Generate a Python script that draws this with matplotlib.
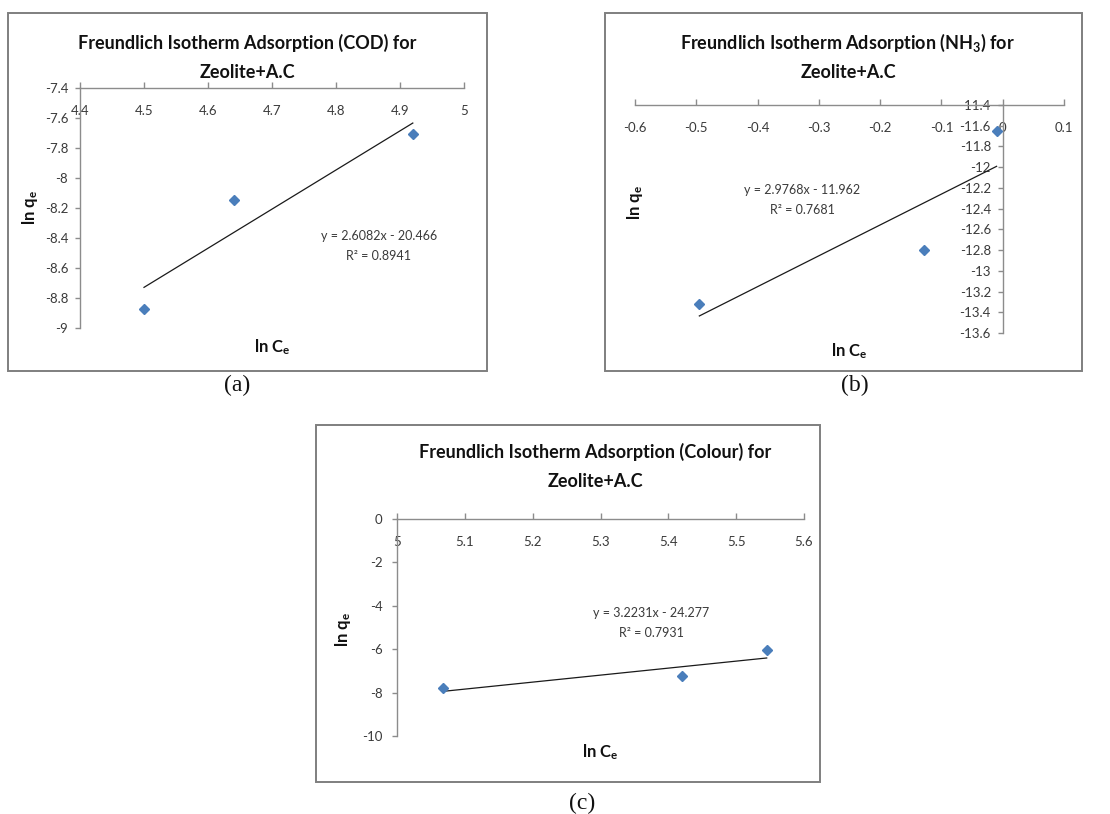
import matplotlib
matplotlib.use("Agg")
import matplotlib.pyplot as plt
import matplotlib.patches as mpatches
import numpy as np

plt.rcParams['font.family'] = ['Lato', 'DejaVu Sans']
plt.rcParams['mathtext.default'] = 'regular'

W, H = 1110, 814

# ---- data ----
cod_x = [4.50, 4.64, 4.92]
cod_y = [-8.87, -8.145, -7.705]
cod_slope, cod_icpt = 2.6082, -20.466
cod_r2 = 0.8941
cod_xticks = [4.4, 4.5, 4.6, 4.7, 4.8, 4.9, 5.0]
cod_xlabels = ['4.4', '4.5', '4.6', '4.7', '4.8', '4.9', '5']
cod_yticks = [-9.0, -8.8, -8.6, -8.4, -8.2, -8.0, -7.8, -7.6, -7.4]
cod_ylabels = ['-9', '-8.8', '-8.6', '-8.4', '-8.2', '-8', '-7.8', '-7.6', '-7.4']

nh3_x = [-0.495, -0.128, -0.010]
nh3_y = [-13.32, -12.80, -11.65]
nh3_slope, nh3_icpt = 2.9768, -11.962
nh3_r2 = 0.7681
nh3_xticks = [-0.6, -0.5, -0.4, -0.3, -0.2, -0.1, 0.0, 0.1]
nh3_xlabels = ['-0.6', '-0.5', '-0.4', '-0.3', '-0.2', '-0.1', '0', '0.1']
nh3_yticks = [-13.6, -13.4, -13.2, -13.0, -12.8, -12.6, -12.4, -12.2, -12.0, -11.8, -11.6, -11.4]
nh3_ylabels = ['-13.6', '-13.4', '-13.2', '-13', '-12.8', '-12.6', '-12.4', '-12.2', '-12', '-11.8', '-11.6', '-11.4']

col_x = [5.068, 5.42, 5.545]
col_y = [-7.81, -7.25, -6.05]
col_slope, col_icpt = 3.2231, -24.277
col_r2 = 0.7931
col_xticks = [5.0, 5.1, 5.2, 5.3, 5.4, 5.5, 5.6]
col_xlabels = ['5', '5.1', '5.2', '5.3', '5.4', '5.5', '5.6']
col_yticks = [-10, -8, -6, -4, -2, 0]
col_ylabels = ['-10', '-8', '-6', '-4', '-2', '0']

MARK = '#4a7ebb'
AXC = '#8c8c8c'
TXT = '#3a3a3a'

fig = plt.figure(figsize=(W / 100, H / 100), dpi=100)


def fx(x):
    return x / W


def fy(y):
    return 1 - y / H


def frame(x0, y0, x1, y1):
    r = mpatches.Rectangle((fx(x0), fy(y1)), fx(x1) - fx(x0), fy(y0) - fy(y1),
                           transform=fig.transFigure, fill=False,
                           edgecolor='#7f7f7f', lw=1.4)
    fig.add_artist(r)


def panel(box, xs, ys, slope, icpt, xticks, xlabels, yticks, ylabels, yaxis_x,
          ylpad=5):
    x0, y0, x1, y1 = box
    ax = fig.add_axes([fx(x0), fy(y1), fx(x1) - fx(x0), fy(y0) - fy(y1)])
    ax.set_xlim(xticks[0], xticks[-1])
    ax.set_ylim(yticks[0], yticks[-1])
    ax.patch.set_alpha(0)
    for s in ['right', 'top']:
        ax.spines[s].set_visible(False)
    ax.spines['bottom'].set_position(('data', yticks[-1]))
    ax.spines['left'].set_position(('data', yaxis_x))
    for s in ['bottom', 'left']:
        ax.spines[s].set_color(AXC)
        ax.spines[s].set_linewidth(1.0)
    ax.set_xticks(xticks)
    ax.set_xticklabels(xlabels)
    ax.set_yticks(yticks)
    ax.set_yticklabels(ylabels)
    ax.tick_params(axis='x', direction='in', length=4, width=1.0, color=AXC,
                   labelsize=9.5, labelcolor=TXT, pad=12)
    ax.tick_params(axis='y', direction='out', length=3.5, width=1.0, color=AXC,
                   labelsize=9.5, labelcolor=TXT, pad=ylpad)
    xf = np.array([min(xs), max(xs)])
    ax.plot(xf, slope * xf + icpt, color='#1a1a1a', lw=0.9, zorder=2)
    ax.plot(xs, ys, linestyle='none', marker='D', ms=5.5, color=MARK,
            markeredgecolor=MARK, zorder=3, clip_on=False)
    return ax


def title(cx, y1, y2, line1):
    fig.text(fx(cx), fy(y1), line1, ha='center', va='center', fontsize=13,
             fontweight='bold', color='#111111')
    fig.text(fx(cx), fy(y2), 'Zeolite+A.C', ha='center', va='center',
             fontsize=13, fontweight='bold', color='#111111')


def labels(ylx, yly, xlx, xly):
    fig.text(fx(ylx), fy(yly), 'ln q$_{e}$', rotation=90, ha='center',
             va='center', fontsize=12, fontweight='bold', color='#111111')
    fig.text(fx(xlx), fy(xly), 'ln C$_{e}$', ha='center', va='center',
             fontsize=12, fontweight='bold', color='#111111')


def eq(cx, y1, y2, slope, icpt, r2):
    fig.text(fx(cx), fy(y1), 'y = %.4fx - %.3f' % (slope, -icpt), ha='center',
             va='center', fontsize=9, color=TXT)
    fig.text(fx(cx), fy(y2), 'R\u00b2 = %.4f' % r2, ha='center', va='center',
             fontsize=9, color=TXT)


def sub(cx, cy, s):
    fig.text(fx(cx), fy(cy), s, ha='center', va='center', fontsize=17,
             family=['Liberation Serif', 'DejaVu Serif'], color='#111111')


# ---- panel (a) ----
frame(8, 13, 487, 371)
panel((80, 88, 464, 328), cod_x, cod_y, cod_slope, cod_icpt,
      cod_xticks, cod_xlabels, cod_yticks, cod_ylabels, cod_xticks[0])
title(247, 43, 72, 'Freundlich Isotherm Adsorption (COD) for')
labels(30, 208, 272, 347)
eq(379, 236, 256, cod_slope, cod_icpt, cod_r2)
sub(237, 385, '(a)')

# ---- panel (b) ----
frame(605, 13, 1082, 371)
panel((635, 105, 1064, 333), nh3_x, nh3_y, nh3_slope, nh3_icpt,
      nh3_xticks, nh3_xlabels, nh3_yticks, nh3_ylabels, 0.0)
title(848, 43, 72, 'Freundlich Isotherm Adsorption (NH$_{3}$) for')
labels(635, 203, 849, 351)
eq(802, 190, 210, nh3_slope, nh3_icpt, nh3_r2)
sub(855, 385, '(b)')

# ---- panel (c) ----
frame(316, 425, 820, 782)
panel((397, 519, 804, 736), col_x, col_y, col_slope, col_icpt,
      col_xticks, col_xlabels, col_yticks, col_ylabels, col_xticks[0],
      ylpad=7)
title(595, 452, 482, 'Freundlich Isotherm Adsorption (Colour) for')
labels(343, 630, 600, 752)
eq(651, 613, 633, col_slope, col_icpt, col_r2)
sub(582, 803, '(c)')

fig.savefig('out.png', dpi=100, facecolor='white')
